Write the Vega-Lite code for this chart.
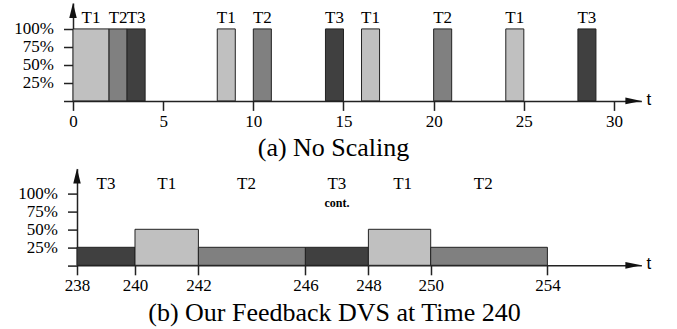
{
  "$schema": "https://vega.github.io/schema/vega-lite/v6.json",
  "padding": {"left": 13, "top": 3, "right": 5, "bottom": 5},
  "bounds": "flush",
  "spacing": 67.6,
  "config": {
    "view": {"stroke": null},
    "font": "Liberation Serif",
    "axis": {
      "grid": false,
      "domainColor": "#222",
      "domainWidth": 1.5,
      "tickColor": "#222",
      "tickWidth": 1.5,
      "tickSize": 9.5,
      "labelFont": "Liberation Serif",
      "labelFontSize": 17,
      "labelColor": "#000",
      "titleFont": "Liberation Serif",
      "titleFontSize": 26,
      "titleFontWeight": "normal",
      "titleColor": "#000"
    }
  },
  "datasets": {
    "a": [
      {"task": "T1", "start": 0, "end": 2, "load": 1, "mid": 1},
      {"task": "T2", "start": 2, "end": 3, "load": 1, "mid": 2.5},
      {"task": "T3", "start": 3, "end": 4, "load": 1, "mid": 3.5},
      {"task": "T1", "start": 8, "end": 9, "load": 1, "mid": 8.5},
      {"task": "T2", "start": 10, "end": 11, "load": 1, "mid": 10.5},
      {"task": "T3", "start": 14, "end": 15, "load": 1, "mid": 14.5},
      {"task": "T1", "start": 16, "end": 17, "load": 1, "mid": 16.5},
      {"task": "T2", "start": 20, "end": 21, "load": 1, "mid": 20.5},
      {"task": "T1", "start": 24, "end": 25, "load": 1, "mid": 24.5},
      {"task": "T3", "start": 28, "end": 29, "load": 1, "mid": 28.5}
    ],
    "b": [
      {"task": "T3", "start": 238, "end": 240, "load": 0.25, "mid": 239, "note": ""},
      {"task": "T1", "start": 240, "end": 242, "load": 0.5, "mid": 241, "note": ""},
      {"task": "T2", "start": 242, "end": 246, "load": 0.25, "mid": 243.8, "note": ""},
      {"task": "T3", "start": 246, "end": 248, "load": 0.25, "mid": 247, "note": "cont."},
      {"task": "T1", "start": 248, "end": 250, "load": 0.5, "mid": 249.1, "note": ""},
      {"task": "T2", "start": 250, "end": 254, "load": 0.25, "mid": 251.8, "note": ""}
    ]
  },
  "vconcat": [
    {
      "width": 568.4,
      "height": 97.9,
      "layer": [
        {
          "data": {"name": "a"},
          "mark": {"type": "rect", "stroke": "#222", "strokeWidth": 1},
          "encoding": {
            "x": {"field": "start", "type": "quantitative",
                  "scale": {"domain": [0, 31.52], "nice": false, "zero": false},
                  "axis": {"values": [0, 5, 10, 15, 20, 25, 30], "tickCount": 20, "labelPadding": 3, "labelOverlap": false, "labelFlush": false,
                           "title": "(a) No Scaling", "titleX": 260, "titleY": 47, "titleBaseline": "middle"}},
            "x2": {"field": "end"},
            "y": {"field": "load", "type": "quantitative",
                  "scale": {"domain": [0, 1.36], "nice": false},
                  "axis": {"values": [0, 0.25, 0.5, 0.75, 1], "tickCount": 10, "title": null, "labelPadding": 10, "labelOverlap": false, "labelFlush": false,
                           "labelExpr": "datum.value == 0 ? '' : format(datum.value, '.0%')"}},
            "y2": {"datum": 0},
            "color": {"field": "task", "type": "nominal",
                      "scale": {"domain": ["T1", "T2", "T3"], "range": ["#c0c0c0", "#808080", "#404040"]},
                      "legend": null}
          }
        },
        {
          "data": {"name": "a"},
          "mark": {"type": "text", "fontSize": 17, "font": "Liberation Serif", "color": "#000", "baseline": "middle"},
          "encoding": {
            "x": {"field": "mid", "type": "quantitative"},
            "y": {"datum": 1.148},
            "text": {"field": "task"}
          }
        },
        {
          "data": {"values": [{}]},
          "mark": {"type": "point", "filled": true, "opacity": 1, "color": "#111", "size": 225,
                   "shape": "M -0.5 2 L 0 0 L 0.5 2 Z"},
          "encoding": {"x": {"datum": 0}, "y": {"datum": 1.36}}
        },
        {
          "data": {"values": [{}]},
          "mark": {"type": "point", "filled": true, "opacity": 1, "color": "#111", "size": 256,
                   "shape": "M -2 -0.42 L 0 0 L -2 0.42 Z"},
          "encoding": {"x": {"datum": 31.52}, "y": {"datum": 0}}
        },
        {
          "data": {"values": [{"label": "t"}]},
          "mark": {"type": "text", "fontSize": 17, "font": "Liberation Sans", "color": "#000", "align": "left", "baseline": "middle", "dx": 5, "dy": -1},
          "encoding": {"x": {"datum": 31.52}, "y": {"datum": 0}, "text": {"field": "label"}}
        }
      ]
    },
    {
      "width": 568.4,
      "height": 96.7,
      "layer": [
        {
          "data": {"name": "b"},
          "mark": {"type": "rect", "stroke": "#222", "strokeWidth": 1},
          "encoding": {
            "x": {"field": "start", "type": "quantitative",
                  "scale": {"domain": [238, 240, 242, 246, 248, 250, 254, 257.22],
                            "range": [4, 62, 125.4, 232.4, 295.4, 357.7, 474.4, 568.4],
                            "nice": false, "zero": false},
                  "axis": {"values": [238, 240, 242, 246, 248, 250, 254], "tickCount": 20, "labelPadding": 3, "labelOverlap": false, "labelFlush": false,
                           "title": "(b) Our Feedback DVS at Time 240", "titleX": 261, "titleY": 47, "titleBaseline": "middle"}},
            "x2": {"field": "end"},
            "y": {"field": "load", "type": "quantitative",
                  "scale": {"domain": [0, 1.343], "nice": false},
                  "axis": {"values": [0, 0.25, 0.5, 0.75, 1], "tickCount": 10, "title": null, "labelPadding": 10, "offset": -4, "labelOverlap": false, "labelFlush": false,
                           "labelExpr": "datum.value == 0 ? '' : format(datum.value, '.0%')"}},
            "y2": {"datum": 0},
            "color": {"field": "task", "type": "nominal",
                      "scale": {"domain": ["T1", "T2", "T3"], "range": ["#c0c0c0", "#808080", "#404040"]},
                      "legend": null}
          }
        },
        {
          "data": {"name": "b"},
          "mark": {"type": "text", "fontSize": 17, "font": "Liberation Serif", "color": "#000", "baseline": "middle"},
          "encoding": {
            "x": {"field": "mid", "type": "quantitative"},
            "y": {"datum": 1.125},
            "text": {"field": "task"}
          }
        },
        {
          "data": {"name": "b"},
          "mark": {"type": "text", "fontSize": 12, "font": "Liberation Serif", "fontWeight": "bold", "color": "#000", "baseline": "middle"},
          "encoding": {
            "x": {"field": "mid", "type": "quantitative"},
            "y": {"datum": 0.86},
            "text": {"field": "note"}
          }
        },
        {
          "data": {"values": [{}]},
          "mark": {"type": "point", "filled": true, "opacity": 1, "color": "#111", "size": 225,
                   "shape": "M -0.5 2 L 0 0 L 0.5 2 Z"},
          "encoding": {"x": {"datum": 238}, "y": {"datum": 1.343}}
        },
        {
          "data": {"values": [{}]},
          "mark": {"type": "point", "filled": true, "opacity": 1, "color": "#111", "size": 256,
                   "shape": "M -2 -0.42 L 0 0 L -2 0.42 Z"},
          "encoding": {"x": {"datum": 257.22}, "y": {"datum": 0}}
        },
        {
          "data": {"values": [{"label": "t"}]},
          "mark": {"type": "text", "fontSize": 17, "font": "Liberation Sans", "color": "#000", "align": "left", "baseline": "middle", "dx": 5, "dy": -1},
          "encoding": {"x": {"datum": 257.22}, "y": {"datum": 0}, "text": {"field": "label"}}
        }
      ]
    }
  ]
}
